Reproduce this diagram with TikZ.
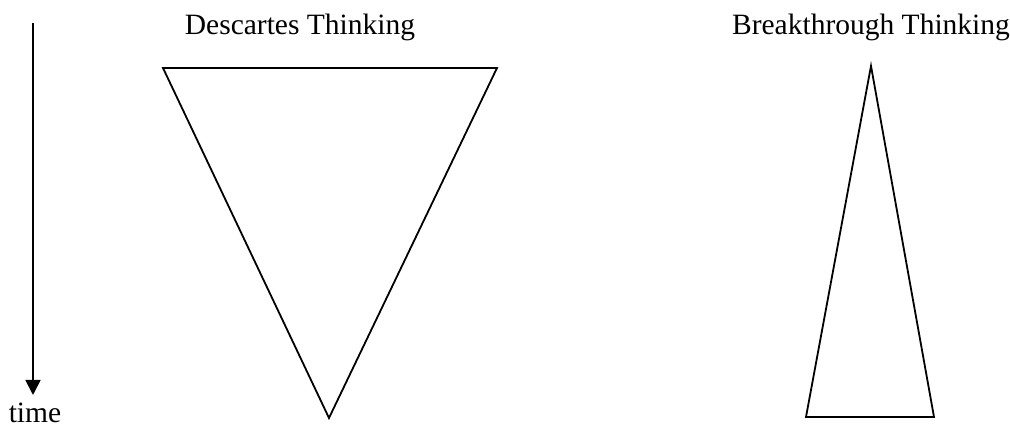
\documentclass[tikz,border=0pt]{standalone}
\usepackage{fontspec}
\setmainfont{Liberation Serif}
\usetikzlibrary{arrows.meta}
\begin{document}
\begin{tikzpicture}[x=1pt,y=1pt,
  lbl/.style={anchor=base,inner sep=0pt,font=\fontsize{29.5}{32}\selectfont},
  shape line/.style={draw=black,line width=1.8pt,line join=miter}]
\useasboundingbox (0,0) rectangle (1010,430);
% time arrow
\coordinate (tstart) at (33,407);
\coordinate (tend) at (33,35);
\draw[line width=1.8pt,-{Triangle[width=15pt,length=15pt]}] (tstart) -- (tend);
\node[lbl] (time) at (35,7) {time};
% Descartes
\node[lbl] (dlabel) at (300,395) {Descartes Thinking};
\coordinate (d1) at (163,362);
\coordinate (d2) at (497,362);
\coordinate (d3) at (329,12);
\draw[shape line] (d1) -- (d2) -- (d3) -- cycle;
% Breakthrough
\node[lbl] (blabel) at (871,395) {Breakthrough Thinking};
\coordinate (b1) at (871,364);
\coordinate (b2) at (934,13);
\coordinate (b3) at (806,13);
\draw[shape line] (b1) -- (b2) -- (b3) -- cycle;
\end{tikzpicture}
\end{document}
